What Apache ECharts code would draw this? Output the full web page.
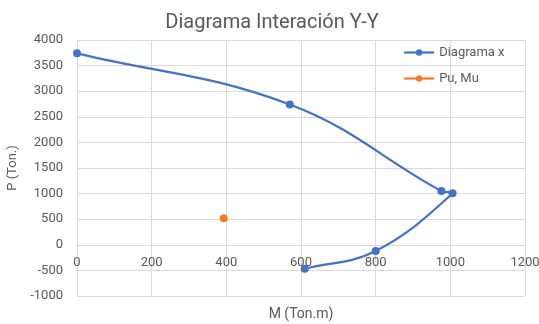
<!DOCTYPE html>
<html><head><meta charset="utf-8">
<script src="https://cdn.jsdelivr.net/npm/echarts@6/dist/echarts.min.js"></script>
<style>html,body{margin:0;padding:0;background:#fff}#c{width:539px;height:324px}</style>
</head><body><div id="c"></div>
<script>
const titleText = "Diagrama Interación Y-Y";
const xName = "M (Ton.m)";
const yName = "P (Ton.)";
const diagramaM = [0, 570, 976, 1006, 800, 610];
const diagramaP = [3740, 2740, 1050, 1005, -120, -470];
const puMuM = [393];
const puMuP = [520];
const xTicks = {min: 0, max: 1200, interval: 200};
const yTicks = {min: -1000, max: 4000, interval: 500};

const font = "Roboto, 'Liberation Sans', sans-serif";
const grey = "#595959";
const gridCol = "#d9d9d9";
const blue = '#4472C4', orange = '#ED7D31';
const SMOOTH = 0.4;

// Excel-like smoothed path through the points, in pixel space from the axis scales
function smoothPath(pts) {
  const n = pts.length;
  const d = (a, b) => Math.hypot(b[0] - a[0], b[1] - a[1]);
  const cpIn = [], cpOut = [];
  for (let i = 0; i < n; i++) {
    const prev = pts[Math.max(i - 1, 0)], next = pts[Math.min(i + 1, n - 1)], p = pts[i];
    const vx = next[0] - prev[0], vy = next[1] - prev[1];
    const l0 = d(prev, p), l1 = d(p, next);
    const tot = (l0 + l1) || 1;
    cpIn.push([p[0] - vx * SMOOTH * l0 / tot, p[1] - vy * SMOOTH * l0 / tot]);
    cpOut.push([p[0] + vx * SMOOTH * l1 / tot, p[1] + vy * SMOOTH * l1 / tot]);
  }
  let s = 'M' + pts[0][0] + ' ' + pts[0][1];
  for (let i = 1; i < n; i++) {
    s += ' C' + cpOut[i - 1][0] + ' ' + cpOut[i - 1][1] + ' ' + cpIn[i][0] + ' ' + cpIn[i][1] + ' ' + pts[i][0] + ' ' + pts[i][1];
  }
  return s;
}

const chart = echarts.init(document.getElementById('c'), null, {renderer: 'canvas'});
chart.setOption({
  animation: false,
  textStyle: {fontFamily: font},
  title: {text: titleText, left: 267, top: 8, textAlign: 'center',
    textStyle: {fontFamily: font, fontSize: 20, fontWeight: 'normal', color: grey}},
  legend: {orient: 'vertical', left: 403, top: 46, itemWidth: 30, itemHeight: 8, itemGap: 13,
    data: ['Diagrama x', 'Pu, Mu'],
    lineStyle: {width: 2.25, opacity: 1},
    textStyle: {fontFamily: font, fontSize: 13, color: grey}, padding: 0},
  grid: {left: 77, right: 14, top: 40, bottom: 28, containLabel: false, outerBoundsMode: 'none'},
  xAxis: {type: 'value', min: xTicks.min, max: xTicks.max, interval: xTicks.interval,
    offset: -51,
    name: xName, nameLocation: 'middle', nameGap: 62,
    nameTextStyle: {fontFamily: font, fontSize: 14, color: grey},
    axisLine: {show: true, onZero: false, lineStyle: {color: gridCol}},
    axisTick: {show: false},
    axisLabel: {fontFamily: font, fontSize: 13, color: grey, margin: 11, formatter: v => String(v)},
    splitLine: {show: true, lineStyle: {color: gridCol, width: 1}}},
  yAxis: {type: 'value', min: yTicks.min, max: yTicks.max, interval: yTicks.interval,
    name: yName, nameLocation: 'middle', nameGap: 49,
    nameTextStyle: {fontFamily: font, fontSize: 13, color: grey},
    axisLine: {show: false, onZero: false}, axisTick: {show: false},
    axisLabel: {fontFamily: font, fontSize: 13, color: grey, margin: 14, formatter: v => String(v)},
    splitLine: {show: true, lineStyle: {color: gridCol, width: 1}}},
  series: [
    {name: 'curve', type: 'custom', coordinateSystem: 'cartesian2d', silent: true, z: 1,
     data: diagramaM.map((m, i) => [m, diagramaP[i]]),
     renderItem: function (params, api) {
       if (params.dataIndex !== 0) return null;
       const pts = diagramaM.map((m, i) => api.coord([m, diagramaP[i]]));
       return {type: 'path', shape: {pathData: smoothPath(pts)},
         style: {fill: null, stroke: blue, lineWidth: 2.25}};
     }},
    {name: 'Diagrama x', type: 'line', z: 3,
     data: diagramaM.map((m, i) => [m, diagramaP[i]]),
     symbol: 'circle', symbolSize: 8,
     lineStyle: {color: blue, width: 0, opacity: 0}, itemStyle: {color: blue}},
    {name: 'Pu, Mu', type: 'line', z: 3,
     data: puMuM.map((m, i) => [m, puMuP[i]]),
     symbol: 'circle', symbolSize: 8,
     lineStyle: {color: orange, width: 2.25}, itemStyle: {color: orange}}
  ]
});
</script></body></html>
